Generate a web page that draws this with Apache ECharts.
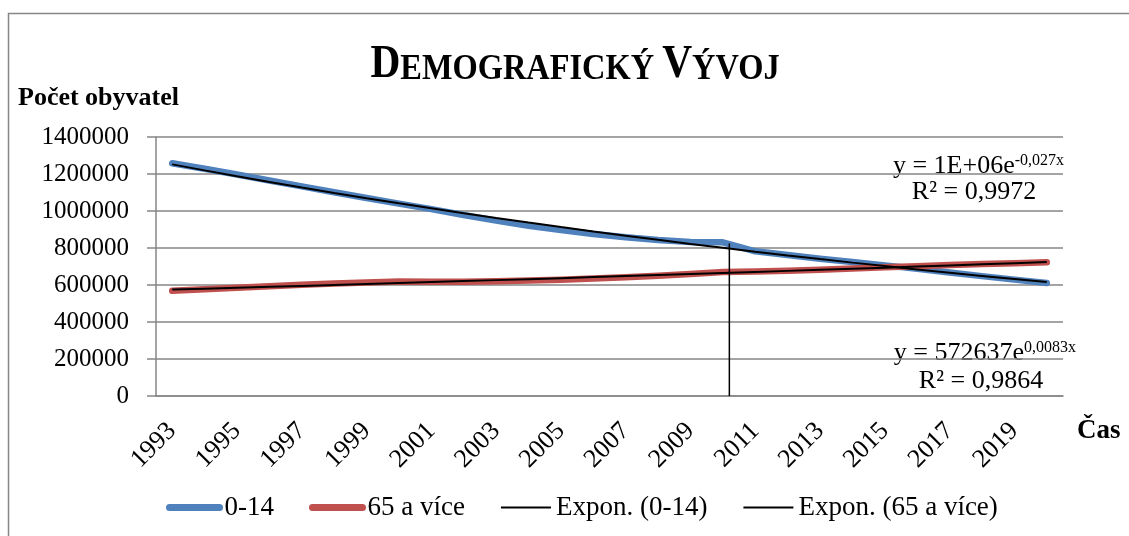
<!DOCTYPE html>
<html>
<head>
<meta charset="utf-8">
<title>Demografický vývoj</title>
<script src="https://cdn.jsdelivr.net/npm/echarts@6/dist/echarts.min.js"></script>
<style>
html, body { margin: 0; padding: 0; background: #fff; }
#chart { width: 1129px; height: 536px; }
</style>
</head>
<body>
<div id="chart"></div>
<script>
// roky (kategorie osy x)
var years = ['1993', '1994', '1995', '1996', '1997', '1998', '1999', '2000', '2001', '2002',
	'2003', '2004', '2005', '2006', '2007', '2008', '2009', '2010', '2011', '2012',
	'2013', '2014', '2015', '2016', '2017', '2018', '2019', '2020'];

// počet obyvatel 0-14 let
var kids = [1258000, 1228000, 1197000, 1165000, 1133000, 1101000, 1070000, 1040000, 1010000, 978000,
	948000, 920000, 897000, 876000, 858000, 843000, 833000, 831000, 782000, 762000,
	742000, 724000, 706000, 688000, 668000, 648000, 629000, 611000];

// počet obyvatel 65 a více
var seniors = [569000, 577000, 585000, 593000, 601000, 608000, 614000, 619000, 618000, 617000,
	620000, 624000, 629000, 635000, 642000, 650000, 660000, 670000, 673000, 677000,
	683000, 689000, 696000, 702000, 708000, 713000, 718000, 723000];

// osa y
var yMax = 1400000;
var yStep = 200000;

// svislá čára (zlom v datech kolem roku 2010)
var breakYear = 2010.2;
var breakTop = 825000;

var font = 'Liberation Serif';
var gray = '#868686';

// exponenciální trend jako v Excelu: ln(y) = ln(a) + b*x, x = 1..n
function expTrend(values) {
	var n = values.length, sx = 0, sy = 0, sxx = 0, sxy = 0;
	for (var i = 0; i < n; i++) {
		var x = i + 1, ly = Math.log(values[i]);
		sx += x; sy += ly; sxx += x * x; sxy += x * ly;
	}
	var b = (n * sxy - sx * sy) / (n * sxx - sx * sx);
	var a = Math.exp((sy - b * sx) / n);
	return values.map(function (v, i) { return Math.round(a * Math.exp(b * (i + 1))); });
}

var chart = echarts.init(document.getElementById('chart'));

var option = {
	animation: false,
	legend: {
		top: 494,
		left: 166,
		padding: 0,
		itemWidth: 50,
		itemHeight: 14,
		itemGap: 35,
		textStyle: { fontSize: 27, fontFamily: font, color: '#000' },
		data: [
			{ name: '0-14', itemStyle: { opacity: 0 }, lineStyle: { width: 7, cap: 'round' } },
			{ name: '65 a více', itemStyle: { opacity: 0 }, lineStyle: { width: 7, cap: 'round' } },
			{ name: 'Expon. (0-14)', itemStyle: { opacity: 0 }, lineStyle: { width: 2 } },
			{ name: 'Expon. (65 a více)', itemStyle: { opacity: 0 }, lineStyle: { width: 2 } }
		]
	},
	grid: { left: 156, right: 66, top: 137, bottom: 140 },
	xAxis: [
		{
			type: 'category',
			data: years,
			boundaryGap: true,
			name: 'Čas',
			nameLocation: 'end',
			nameGap: 14,
			nameTextStyle: {
				fontSize: 27, fontWeight: 'bold', fontFamily: font, color: '#000',
				verticalAlign: 'top', padding: [22, 0, 0, 0]
			},
			axisLine: { lineStyle: { color: gray, width: 1.5 } },
			axisTick: { interval: 0, length: 7, lineStyle: { color: gray, width: 1.5 } },
			axisLabel: { interval: 1, rotate: 45, margin: 31, fontSize: 26, fontFamily: font, color: '#000' },
			splitLine: { show: false }
		},
		{
			type: 'value',
			min: 1992.5,
			max: 2020.5,
			show: false
		}
	],
	yAxis: {
		type: 'value',
		min: 0,
		max: yMax,
		interval: yStep,
		axisLine: { show: true, lineStyle: { color: gray, width: 1.5 } },
		axisTick: { show: true, length: 9, lineStyle: { color: gray, width: 1.5 } },
		axisLabel: {
			margin: 27, fontSize: 25, fontFamily: font, color: '#000',
			formatter: function (v) { return String(v); }
		},
		splitLine: { lineStyle: { color: gray, width: 1.5 } }
	},
	series: [
		{
			name: '0-14',
			type: 'line',
			data: kids,
			symbol: 'none',
			itemStyle: { color: '#4F81BD' },
			lineStyle: { color: '#4F81BD', width: 6.5, cap: 'round', join: 'round' }
		},
		{
			name: '65 a více',
			type: 'line',
			data: seniors,
			symbol: 'none',
			itemStyle: { color: '#C0504D' },
			lineStyle: { color: '#C0504D', width: 6.5, cap: 'round', join: 'round' }
		},
		{
			name: 'Expon. (0-14)',
			type: 'line',
			data: expTrend(kids),
			symbol: 'none',
			itemStyle: { color: '#000' },
			lineStyle: { color: '#000', width: 2 }
		},
		{
			name: 'Expon. (65 a více)',
			type: 'line',
			data: expTrend(seniors),
			symbol: 'none',
			itemStyle: { color: '#000' },
			lineStyle: { color: '#000', width: 2 }
		},
		{
			name: 'zlom',
			type: 'line',
			xAxisIndex: 1,
			data: [[breakYear, 0], [breakYear, breakTop]],
			symbol: 'none',
			silent: true,
			lineStyle: { color: '#000', width: 1.5 }
		}
	],
	graphic: [
		{
			type: 'rect',
			shape: { x: 8.5, y: 13.5, width: 1200, height: 600 },
			style: { fill: 'none', stroke: gray, lineWidth: 1.5 },
			silent: true
		},
		// nadpis kapitálkami (úzké písmo jako v Excelu)
		{
			type: 'text',
			x: 575,
			y: 65,
			scaleX: 0.9,
			style: {
				text: '{a|D}{b|EMOGRAFICKÝ\u00a0}{a|V}{b|ÝVOJ}', align: 'center', verticalAlign: 'middle',
				rich: {
					a: { fontSize: 46, fontWeight: 'bold', fontFamily: font, fill: '#000', verticalAlign: 'bottom' },
					b: { fontSize: 36, fontWeight: 'bold', fontFamily: font, fill: '#000', verticalAlign: 'bottom' }
				}
			}
		},
		{
			type: 'text',
			style: {
				text: 'Počet obyvatel', x: 18, y: 98, fill: '#000',
				font: 'bold 26px "Liberation Serif"', align: 'left', verticalAlign: 'middle'
			}
		},
		{
			type: 'text',
			style: {
				text: '{n|y = 1E+06e}{s|-0,027x}', x: 1064, y: 166, align: 'right', verticalAlign: 'middle',
				rich: {
					n: { fontSize: 26, fontFamily: font, fill: '#000', verticalAlign: 'bottom' },
					s: { fontSize: 16, fontFamily: font, fill: '#000', verticalAlign: 'top' }
				}
			}
		},
		{
			type: 'text',
			style: {
				text: 'R² = 0,9972', x: 974, y: 192, align: 'center', verticalAlign: 'middle',
				font: '26px "Liberation Serif"', fill: '#000'
			}
		},
		{
			type: 'text',
			style: {
				text: '{n|y = 572637e}{s|0,0083x}', x: 1076, y: 353, align: 'right', verticalAlign: 'middle',
				rich: {
					n: { fontSize: 26, fontFamily: font, fill: '#000', verticalAlign: 'bottom' },
					s: { fontSize: 16, fontFamily: font, fill: '#000', verticalAlign: 'top' }
				}
			}
		},
		{
			type: 'text',
			style: {
				text: 'R² = 0,9864', x: 981, y: 381, align: 'center', verticalAlign: 'middle',
				font: '26px "Liberation Serif"', fill: '#000'
			}
		}
	]
};

chart.setOption(option);
</script>
</body>
</html>
